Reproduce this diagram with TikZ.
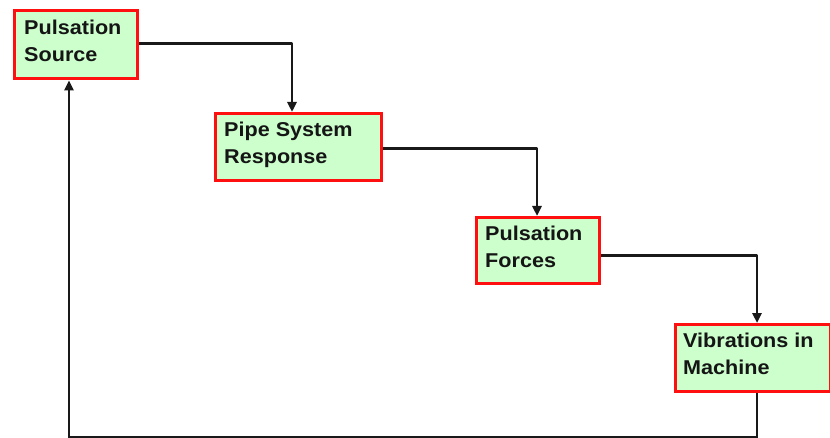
\documentclass[tikz,border=0pt]{standalone}
\usepackage{fontspec}
\setmainfont{Liberation Sans}[FakeStretch=1.08]
\usetikzlibrary{arrows.meta,calc}
\definecolor{boxfill}{HTML}{CCFFCC}
\definecolor{boxedge}{HTML}{FF1010}
\definecolor{ink}{HTML}{151515}
\begin{document}
\begin{tikzpicture}[x=1pt,y=1pt,
  stage/.style={draw=boxedge, fill=boxfill, line width=3.4pt, rectangle,
    inner sep=0pt, anchor=north west},
  caption/.style={anchor=north west, inner sep=0pt, align=left, text=ink,
    font=\fontsize{20}{26.5}\selectfont\bfseries,
    execute at begin node={\rule{0pt}{15pt}}},
  flow/.style={draw=black!90, line width=2.6pt, line join=round,
    -{Triangle[length=10pt,width=9pt]}}]
  \useasboundingbox (0,0) rectangle (830,437);

  % process stages (top-left corner, width, height)
  \node[stage, minimum width=123pt, minimum height=68pt] (src)    at (13,428) {};
  \node[stage, minimum width=166pt, minimum height=67pt] (pipe)   at (214,325) {};
  \node[stage, minimum width=123pt, minimum height=66pt] (forces) at (475,221) {};
  \node[stage, minimum width=155pt, minimum height=67pt] (vib)    at (674,114) {};

  % stage captions
  \node[caption] (srcT)    at ($(src.north west)+(11,-11)$)    {Pulsation\\Source};
  \node[caption] (pipeT)   at ($(pipe.north west)+(10,-10)$)   {Pipe System\\Response};
  \node[caption] (forcesT) at ($(forces.north west)+(10,-10)$) {Pulsation\\Forces};
  \node[caption] (vibT)    at ($(vib.north west)+(9,-10)$)     {Vibrations in\\Machine};

  % drop points on the top edges and the return loop corners
  \coordinate (pipeIn)   at ($(pipe.north west)+(78,0)$);
  \coordinate (forcesIn) at ($(forces.north west)+(62,0)$);
  \coordinate (vibIn)    at ($(vib.north west)+(83,0)$);
  \coordinate (vibOut)   at (vibIn |- vib.south);
  \coordinate (loopR)    at ($(vibOut)+(0,-44)$);
  \coordinate (srcIn)    at ($(src.south west)+(56,0)$);

  \draw[flow] ([yshift=1pt]src.east) -| (pipeIn);
  \draw[flow] ([yshift=-1.5pt]pipe.east) -| (forcesIn);
  \draw[flow] ([yshift=-4.5pt]forces.east) -| (vibIn);
  \draw[flow] (vibOut) -- (loopR) -| (srcIn);
\end{tikzpicture}
\end{document}
